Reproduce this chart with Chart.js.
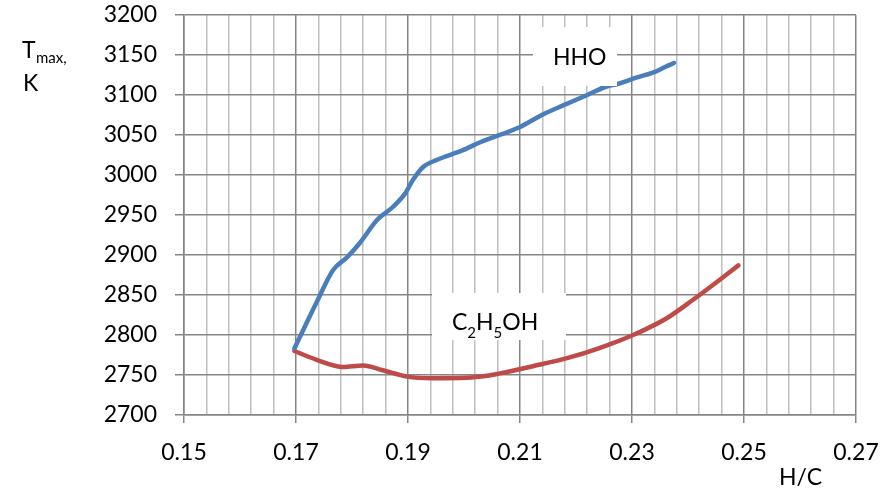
<!DOCTYPE html>
<html>
<head>
<meta charset="utf-8">
<script src="https://cdn.jsdelivr.net/npm/chart.js@4.4.1/dist/chart.umd.min.js"></script>
<style>
  html, body { margin: 0; padding: 0; background: #fff; }
  #wrap { width: 887px; height: 491px; }
</style>
</head>
<body>
<div id="wrap"><canvas id="graph" width="887" height="491"></canvas></div>
<script>
// values
const hhoX = [0.1697, 0.1739, 0.1766, 0.1791, 0.1814, 0.1845, 0.1873, 0.1895, 0.1909, 0.1927, 0.1952, 0.1998, 0.2029, 0.2100, 0.2139, 0.2177, 0.2220, 0.2252, 0.2275, 0.2309, 0.2341, 0.2359, 0.2375];
const hhoT = [2783, 2844, 2881, 2897, 2915, 2944, 2960, 2977, 2994, 3010, 3019, 3031, 3041, 3060, 3075, 3087, 3100, 3110, 3114, 3122, 3129, 3135, 3140];

const ethX = [0.1697, 0.1737, 0.1784, 0.1820, 0.1855, 0.1898, 0.1945, 0.2005, 0.2041, 0.2064, 0.2123, 0.2184, 0.2243, 0.2302, 0.2362, 0.2409, 0.2451, 0.2490];
const ethT = [2780, 2769, 2760, 2762, 2756, 2748, 2746, 2746.5, 2749, 2752, 2761, 2771, 2784, 2800, 2821, 2844, 2866, 2887];

const xTickLabels = ['0.15', '0.17', '0.19', '0.21', '0.23', '0.25', '0.27'];
const xMinorPerMajor = 5;

const FONT = 'Lato, "Open Sans", sans-serif';
const majorGrid = '#868686';
const minorGrid = '#bfbfbf';

const toPoints = (xs, ys) => xs.map((x, i) => ({ x: x, y: ys[i] }));

const isMajor = (v) => {
    return xTickLabels.some(l => Math.abs(parseFloat(l) - v) < 1e-6);
};

// white label boxes and the free-standing texts
const labelsPlugin = {
    id: 'labels',
    afterDatasetsDraw(chart) {
        const ctx = chart.ctx;
        ctx.save();
        ctx.fillStyle = '#fff';
        ctx.fillRect(533, 27, 84, 59);
        ctx.fillRect(432, 293, 134, 47);

        ctx.fillStyle = '#000';
        ctx.textBaseline = 'alphabetic';
        ctx.font = '23px ' + FONT;
        ctx.fillText('HHO', 553, 65);

        // C2H5OH
        let x = 452;
        const parts = [['C', false], ['2', true], ['H', false], ['5', true], ['OH', false]];
        parts.forEach(p => {
            ctx.font = (p[1] ? '15px ' : '23px ') + FONT;
            ctx.fillText(p[0], x, p[1] ? 338 : 330);
            x += ctx.measureText(p[0]).width;
        });
        ctx.restore();
    },
    afterDraw(chart) {
        const ctx = chart.ctx;
        ctx.save();
        ctx.fillStyle = '#000';
        ctx.font = '23px ' + FONT;
        ctx.fillText('T', 22, 58);
        ctx.font = '15px ' + FONT;
        ctx.fillText('max,', 36, 63);
        ctx.font = '23px ' + FONT;
        ctx.fillText('K', 23, 91);
        ctx.fillText('H/C', 779, 485);
        ctx.restore();
    }
};

new Chart(document.getElementById('graph'), {
    type: 'line',
    data: {
        datasets: [
            {
                label: 'HHO',
                data: toPoints(hhoX, hhoT),
                borderColor: '#4a7ebb',
                borderWidth: 4.5,
                pointRadius: 0,
                cubicInterpolationMode: 'monotone',
                borderCapStyle: 'round'
            },
            {
                label: 'C2H5OH',
                data: toPoints(ethX, ethT),
                borderColor: '#be4b48',
                borderWidth: 4.5,
                pointRadius: 0,
                cubicInterpolationMode: 'monotone',
                borderCapStyle: 'round'
            }
        ]
    },
    options: {
        responsive: false,
        animation: false,
        layout: { padding: { left: 0, right: 31, top: 15, bottom: 0 } },
        plugins: {
            legend: { display: false },
            tooltip: { enabled: false }
        },
        scales: {
            x: {
                type: 'linear',
                min: 0.15,
                max: 0.27,
                afterBuildTicks: (scale) => {
                    const ticks = [];
                    for (let i = 0; i < xTickLabels.length; i++) {
                        const v0 = parseFloat(xTickLabels[i]);
                        ticks.push({ value: v0 });
                        if (i < xTickLabels.length - 1) {
                            const step = (parseFloat(xTickLabels[i + 1]) - v0) / xMinorPerMajor;
                            for (let j = 1; j < xMinorPerMajor; j++) {
                                ticks.push({ value: +(v0 + j * step).toFixed(4) });
                            }
                        }
                    }
                    scale.ticks = ticks;
                },
                afterFit: (scale) => {
                    scale.height = 76;
                    scale.paddingLeft = 0;
                    scale.paddingRight = 0;
                },
                border: { color: majorGrid, width: 1.5 },
                grid: {
                    color: (c) => isMajor(c.tick.value) ? majorGrid : minorGrid,
                    tickColor: (c) => isMajor(c.tick.value) ? majorGrid : 'rgba(0,0,0,0)',
                    tickLength: 8,
                    lineWidth: 1.5
                },
                ticks: {
                    autoSkip: false,
                    maxRotation: 0,
                    padding: 16,
                    color: '#000',
                    font: { family: FONT, size: 23 },
                    callback: (v) => {
                        const l = xTickLabels.find(s => Math.abs(parseFloat(s) - v) < 1e-6);
                        return l === undefined ? '' : l;
                    }
                }
            },
            y: {
                min: 2700,
                max: 3200,
                afterFit: (scale) => {
                    scale.width = 184;
                    scale.paddingTop = 0;
                    scale.paddingBottom = 0;
                },
                border: { color: majorGrid, width: 1.5 },
                grid: {
                    color: majorGrid,
                    tickLength: 9,
                    lineWidth: 1.5
                },
                ticks: {
                    stepSize: 50,
                    padding: 18,
                    color: '#000',
                    font: { family: FONT, size: 23 },
                    callback: (v) => String(v)
                }
            }
        }
    },
    plugins: [labelsPlugin]
});
</script>
</body>
</html>
